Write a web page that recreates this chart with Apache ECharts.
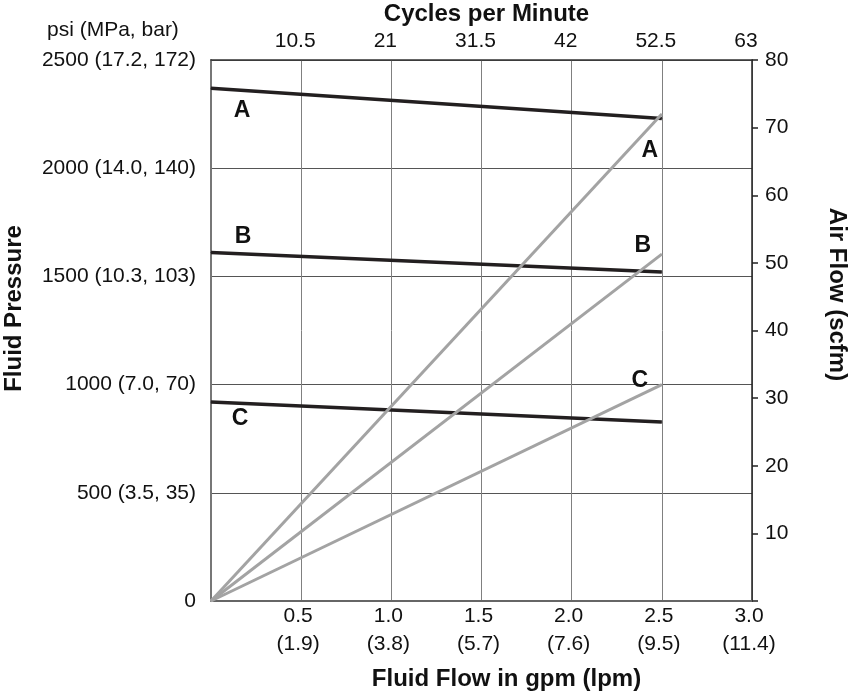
<!DOCTYPE html>
<html>
<head>
<meta charset="utf-8">
<script src="https://cdn.jsdelivr.net/npm/echarts@6/dist/echarts.min.js"></script>
<style>
  html, body { margin: 0; padding: 0; background: #fff; }
  #chart { width: 854px; height: 692px; }
</style>
</head>
<body>
<div id="chart"></div>
<script>
// ---- Data ----
const flowGpm = [0, 2.5];                       // x values of every line
const pressureA = [2370, 2230];                 // psi
const pressureB = [1610, 1520];
const pressureC = [920, 827];
const airA = [0, 72];                           // scfm
const airB = [0, 51.3];
const airC = [0, 32];
const curveNames = ['A', 'B', 'C'];

const gpmTickLabels = ['0.5', '1.0', '1.5', '2.0', '2.5', '3.0'];
const lpmTickLabels = ['1.9', '3.8', '5.7', '7.6', '9.5', '11.4'];
const cpmTickLabels = ['10.5', '21', '31.5', '42', '52.5', '63'];
const psiTickLabels = ['0', '500 (3.5, 35)', '1000 (7.0, 70)', '1500 (10.3, 103)', '2000 (14.0, 140)', '2500 (17.2, 172)'];
const scfmTickLabels = ['', '10', '20', '30', '40', '50', '60', '70', '80'];

// ---- Chart ----
const FONT = "'Liberation Sans', Arial, Helvetica, sans-serif";
const chart = echarts.init(document.getElementById('chart'), null, { renderer: 'canvas' });

function lineSeries(name, values, yAxisIndex, color, width, labelIndex, offset) {
  return {
    name: name + (yAxisIndex ? ' air' : ' pressure'),
    type: 'line',
    xAxisIndex: 0,
    yAxisIndex: yAxisIndex,
    symbol: 'circle',
    symbolSize: 1,
    showSymbol: true,
    itemStyle: { color: color },
    lineStyle: { color: color, width: width },
    emphasis: { disabled: true },
    data: flowGpm.map((x, i) => i === labelIndex ? {
      value: [x, values[i]],
      label: {
        show: true, formatter: name, position: 'inside', offset: offset,
        fontSize: 23, fontWeight: 'bold', color: '#111', fontFamily: FONT
      }
    } : [x, values[i]])
  };
}

const dark = '#231f20';
const gray = '#a3a3a3';

const option = {
  animation: false,
  backgroundColor: '#fff',
  textStyle: { fontFamily: FONT },
  title: {
    text: 'psi (MPa, bar)',
    left: 47, top: 20, padding: 0,
    textStyle: { fontSize: 21, fontWeight: 'normal', color: '#111', fontFamily: FONT }
  },
  grid: { left: 211, right: 102, top: 60, bottom: 91, containLabel: false, outerBoundsMode: 'none' },
  xAxis: [
    {
      type: 'value', position: 'bottom', min: 0, max: 3, interval: 0.5,
      name: 'Fluid Flow in gpm (lpm)', nameLocation: 'middle', nameGap: 66,
      nameTextStyle: { fontSize: 24, fontWeight: 'bold', color: '#111', fontFamily: FONT, padding: [0, 0, 0, 50] },
      axisLine: { show: true, onZero: false, lineStyle: { color: '#666', width: 2 } },
      axisTick: { show: false },
      axisLabel: {
        fontSize: 21, color: '#111', lineHeight: 28, margin: 1, padding: [0, 6, 0, 0],
        formatter: v => {
          const i = Math.round(v / 0.5) - 1;
          return i < 0 ? '' : gpmTickLabels[i] + '\n(' + lpmTickLabels[i] + ')';
        }
      },
      splitLine: { show: true, lineStyle: { color: '#808080', width: 1 } }
    },
    {
      type: 'value', position: 'top', min: 0, max: 63, interval: 10.5,
      name: 'Cycles per Minute', nameLocation: 'middle', nameGap: 33,
      nameTextStyle: { fontSize: 24, fontWeight: 'bold', color: '#111', fontFamily: FONT, padding: [0, 0, 0, 10] },
      axisLine: { show: true, onZero: false, lineStyle: { color: '#333', width: 1.5 } },
      axisTick: { show: false },
      axisLabel: {
        fontSize: 21, color: '#111', margin: 8, padding: [0, 12, 0, 0],
        formatter: v => {
          const i = Math.round(v / 10.5) - 1;
          return i < 0 ? '' : cpmTickLabels[i];
        }
      },
      splitLine: { show: false }
    }
  ],
  yAxis: [
    {
      type: 'value', position: 'left', min: 0, max: 2500, interval: 500,
      name: 'Fluid Pressure', nameLocation: 'middle', nameGap: 185, nameRotate: 90,
      nameTextStyle: { fontSize: 24, fontWeight: 'bold', color: '#111', fontFamily: FONT, padding: [0, 0, 0, 44] },
      axisLine: { show: true, onZero: false, lineStyle: { color: '#777', width: 2 } },
      axisTick: { show: false },
      axisLabel: {
        fontSize: 21, color: '#111', margin: 15,
        formatter: v => psiTickLabels[Math.round(v / 500)]
      },
      splitLine: { show: true, lineStyle: { color: '#555', width: 1 } }
    },
    {
      type: 'value', position: 'right', min: 0, max: 80, interval: 10,
      name: 'Air Flow (scfm)', nameLocation: 'middle', nameGap: 73, nameRotate: -90,
      nameTextStyle: { fontSize: 24, fontWeight: 'bold', color: '#111', fontFamily: FONT, padding: [0, 72, 0, 0] },
      axisLine: { show: true, onZero: false, lineStyle: { color: '#222', width: 1.5 } },
      axisTick: { show: true, inside: false, length: 6, lineStyle: { color: '#222', width: 1.5 } },
      axisLabel: {
        fontSize: 21, color: '#111', margin: 13,
        formatter: v => scfmTickLabels[Math.round(v / 10)]
      },
      splitLine: { show: false }
    }
  ],
  series: [
    lineSeries(curveNames[0], pressureA, 0, dark, 3.5, 0, [31, 23]),
    lineSeries(curveNames[1], pressureB, 0, dark, 3.5, 0, [32, -16]),
    lineSeries(curveNames[2], pressureC, 0, dark, 3.5, 0, [29, 17]),
    lineSeries(curveNames[0], airA, 1, gray, 3, 1, [-12, 37]),
    lineSeries(curveNames[1], airB, 1, gray, 3, 1, [-19, -8]),
    lineSeries(curveNames[2], airC, 1, gray, 3, 1, [-22, -4])
  ]
};

chart.setOption(option);
</script>
</body>
</html>
